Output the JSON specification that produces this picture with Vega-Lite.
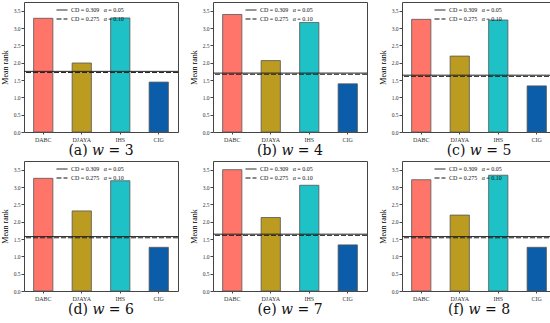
{
  "$schema": "https://vega.github.io/schema/vega-lite/v6.json",
  "background": "white",
  "padding": {"left": 0, "top": 1, "right": 5, "bottom": 0},
  "spacing": {"row": 1, "column": 10},
  "datasets": {
    "bars": [
      {"panel": "a", "alg": "DABC", "rank": 3.28}, {"panel": "a", "alg": "DJAYA", "rank": 1.99}, {"panel": "a", "alg": "IHS", "rank": 3.29}, {"panel": "a", "alg": "CIG", "rank": 1.44},
      {"panel": "b", "alg": "DABC", "rank": 3.39}, {"panel": "b", "alg": "DJAYA", "rank": 2.06}, {"panel": "b", "alg": "IHS", "rank": 3.16}, {"panel": "b", "alg": "CIG", "rank": 1.39},
      {"panel": "c", "alg": "DABC", "rank": 3.25}, {"panel": "c", "alg": "DJAYA", "rank": 2.19}, {"panel": "c", "alg": "IHS", "rank": 3.23}, {"panel": "c", "alg": "CIG", "rank": 1.33},
      {"panel": "d", "alg": "DABC", "rank": 3.25}, {"panel": "d", "alg": "DJAYA", "rank": 2.31}, {"panel": "d", "alg": "IHS", "rank": 3.18}, {"panel": "d", "alg": "CIG", "rank": 1.26},
      {"panel": "e", "alg": "DABC", "rank": 3.50}, {"panel": "e", "alg": "DJAYA", "rank": 2.12}, {"panel": "e", "alg": "IHS", "rank": 3.05}, {"panel": "e", "alg": "CIG", "rank": 1.33},
      {"panel": "f", "alg": "DABC", "rank": 3.21}, {"panel": "f", "alg": "DJAYA", "rank": 2.19}, {"panel": "f", "alg": "IHS", "rank": 3.34}, {"panel": "f", "alg": "CIG", "rank": 1.26}
    ],
    "lines": [
      {"panel": "a", "label": "CD = 0.309\u00a0\u00a0\u00a0α = 0.05", "value": 1.749}, {"panel": "a", "label": "CD = 0.275\u00a0\u00a0\u00a0α = 0.10", "value": 1.715},
      {"panel": "b", "label": "CD = 0.309\u00a0\u00a0\u00a0α = 0.05", "value": 1.699}, {"panel": "b", "label": "CD = 0.275\u00a0\u00a0\u00a0α = 0.10", "value": 1.665},
      {"panel": "c", "label": "CD = 0.309\u00a0\u00a0\u00a0α = 0.05", "value": 1.639}, {"panel": "c", "label": "CD = 0.275\u00a0\u00a0\u00a0α = 0.10", "value": 1.605},
      {"panel": "d", "label": "CD = 0.309\u00a0\u00a0\u00a0α = 0.05", "value": 1.569}, {"panel": "d", "label": "CD = 0.275\u00a0\u00a0\u00a0α = 0.10", "value": 1.535},
      {"panel": "e", "label": "CD = 0.309\u00a0\u00a0\u00a0α = 0.05", "value": 1.639}, {"panel": "e", "label": "CD = 0.275\u00a0\u00a0\u00a0α = 0.10", "value": 1.605},
      {"panel": "f", "label": "CD = 0.309\u00a0\u00a0\u00a0α = 0.05", "value": 1.569}, {"panel": "f", "label": "CD = 0.275\u00a0\u00a0\u00a0α = 0.10", "value": 1.535}
    ]
  },
  "config": {
    "font": "Liberation Serif",
    "view": {"stroke": "#444", "strokeWidth": 1},
    "axis": {"labelFont": "Liberation Serif", "titleFont": "Liberation Serif", "domain": false, "tickColor": "#444", "labelColor": "#333", "grid": false, "labelOverlap": false},
    "title": {"font": "DejaVu Serif", "fontSize": 14, "fontWeight": "normal", "color": "#111", "orient": "bottom", "offset": 2},
    "legend": {"orient": "none", "legendX": 32, "legendY": 2, "labelFont": "Liberation Serif", "labelFontSize": 6, "labelColor": "#111", "symbolType": "stroke", "symbolSize": 120, "symbolStrokeWidth": 1, "symbolStrokeColor": "#111", "rowPadding": 0, "labelOffset": 3, "title": null, "padding": 0}
  },
  "columns": 3,
  "resolve": {"legend": {"strokeDash": "independent"}},
  "concat": [
    {"width": 154, "height": 130, "title": "(a)  𝑤 = 3", "layer": [
      {"data": {"name": "bars"}, "transform": [{"filter": "datum.panel == 'a'"}], "mark": {"type": "bar", "stroke": "#555", "strokeWidth": 0.8}, "encoding": {
        "x": {"field": "alg", "type": "nominal", "sort": ["DABC", "DJAYA", "IHS", "CIG"], "scale": {"paddingInner": 0.5, "paddingOuter": 0.25}, "axis": {"title": null, "labelAngle": 0, "labelFontSize": 6, "tickSize": 2, "labelPadding": 2}},
        "y": {"field": "rank", "type": "quantitative", "scale": {"domain": [0, 3.75], "nice": false}, "axis": {"title": "Mean rank", "titleFontSize": 8, "titleFontWeight": "normal", "titlePadding": 4, "labelFontSize": 5.5, "labelOverlap": false, "values": [0, 0.5, 1, 1.5, 2, 2.5, 3, 3.5], "format": ".1f", "tickSize": 3, "labelPadding": 1}},
        "color": {"field": "alg", "type": "nominal", "scale": {"domain": ["DABC", "DJAYA", "IHS", "CIG"], "range": ["#FF756A", "#BC9B21", "#1DC1C6", "#0B5DA9"]}, "legend": null}}},
      {"data": {"name": "lines"}, "transform": [{"filter": "datum.panel == 'a'"}], "mark": {"type": "rule", "color": "#222", "strokeWidth": 1}, "encoding": {
        "y": {"field": "value", "type": "quantitative", "axis": {"title": "Mean rank", "titleFontSize": 8, "titleFontWeight": "normal", "titlePadding": 4, "labelFontSize": 5.5, "labelOverlap": false, "values": [0, 0.5, 1, 1.5, 2, 2.5, 3, 3.5], "format": ".1f", "tickSize": 3, "labelPadding": 1}},
        "strokeDash": {"field": "label", "type": "nominal", "scale": {"domain": ["CD = 0.309\u00a0\u00a0\u00a0α = 0.05", "CD = 0.275\u00a0\u00a0\u00a0α = 0.10"], "range": [[1, 0], [5, 2]]}}}}
    ]},
    {"width": 154, "height": 130, "title": "(b)  𝑤 = 4", "layer": [
      {"data": {"name": "bars"}, "transform": [{"filter": "datum.panel == 'b'"}], "mark": {"type": "bar", "stroke": "#555", "strokeWidth": 0.8}, "encoding": {
        "x": {"field": "alg", "type": "nominal", "sort": ["DABC", "DJAYA", "IHS", "CIG"], "scale": {"paddingInner": 0.5, "paddingOuter": 0.25}, "axis": {"title": null, "labelAngle": 0, "labelFontSize": 6, "tickSize": 2, "labelPadding": 2}},
        "y": {"field": "rank", "type": "quantitative", "scale": {"domain": [0, 3.75], "nice": false}, "axis": {"title": "Mean rank", "titleFontSize": 8, "titleFontWeight": "normal", "titlePadding": 4, "labelFontSize": 5.5, "labelOverlap": false, "values": [0, 0.5, 1, 1.5, 2, 2.5, 3, 3.5], "format": ".1f", "tickSize": 3, "labelPadding": 1}},
        "color": {"field": "alg", "type": "nominal", "scale": {"domain": ["DABC", "DJAYA", "IHS", "CIG"], "range": ["#FF756A", "#BC9B21", "#1DC1C6", "#0B5DA9"]}, "legend": null}}},
      {"data": {"name": "lines"}, "transform": [{"filter": "datum.panel == 'b'"}], "mark": {"type": "rule", "color": "#222", "strokeWidth": 1}, "encoding": {
        "y": {"field": "value", "type": "quantitative", "axis": {"title": "Mean rank", "titleFontSize": 8, "titleFontWeight": "normal", "titlePadding": 4, "labelFontSize": 5.5, "labelOverlap": false, "values": [0, 0.5, 1, 1.5, 2, 2.5, 3, 3.5], "format": ".1f", "tickSize": 3, "labelPadding": 1}},
        "strokeDash": {"field": "label", "type": "nominal", "scale": {"domain": ["CD = 0.309\u00a0\u00a0\u00a0α = 0.05", "CD = 0.275\u00a0\u00a0\u00a0α = 0.10"], "range": [[1, 0], [5, 2]]}}}}
    ]},
    {"width": 154, "height": 130, "title": "(c)  𝑤 = 5", "layer": [
      {"data": {"name": "bars"}, "transform": [{"filter": "datum.panel == 'c'"}], "mark": {"type": "bar", "stroke": "#555", "strokeWidth": 0.8}, "encoding": {
        "x": {"field": "alg", "type": "nominal", "sort": ["DABC", "DJAYA", "IHS", "CIG"], "scale": {"paddingInner": 0.5, "paddingOuter": 0.25}, "axis": {"title": null, "labelAngle": 0, "labelFontSize": 6, "tickSize": 2, "labelPadding": 2}},
        "y": {"field": "rank", "type": "quantitative", "scale": {"domain": [0, 3.75], "nice": false}, "axis": {"title": "Mean rank", "titleFontSize": 8, "titleFontWeight": "normal", "titlePadding": 4, "labelFontSize": 5.5, "labelOverlap": false, "values": [0, 0.5, 1, 1.5, 2, 2.5, 3, 3.5], "format": ".1f", "tickSize": 3, "labelPadding": 1}},
        "color": {"field": "alg", "type": "nominal", "scale": {"domain": ["DABC", "DJAYA", "IHS", "CIG"], "range": ["#FF756A", "#BC9B21", "#1DC1C6", "#0B5DA9"]}, "legend": null}}},
      {"data": {"name": "lines"}, "transform": [{"filter": "datum.panel == 'c'"}], "mark": {"type": "rule", "color": "#222", "strokeWidth": 1}, "encoding": {
        "y": {"field": "value", "type": "quantitative", "axis": {"title": "Mean rank", "titleFontSize": 8, "titleFontWeight": "normal", "titlePadding": 4, "labelFontSize": 5.5, "labelOverlap": false, "values": [0, 0.5, 1, 1.5, 2, 2.5, 3, 3.5], "format": ".1f", "tickSize": 3, "labelPadding": 1}},
        "strokeDash": {"field": "label", "type": "nominal", "scale": {"domain": ["CD = 0.309\u00a0\u00a0\u00a0α = 0.05", "CD = 0.275\u00a0\u00a0\u00a0α = 0.10"], "range": [[1, 0], [5, 2]]}}}}
    ]},
    {"width": 154, "height": 130, "title": "(d)  𝑤 = 6", "layer": [
      {"data": {"name": "bars"}, "transform": [{"filter": "datum.panel == 'd'"}], "mark": {"type": "bar", "stroke": "#555", "strokeWidth": 0.8}, "encoding": {
        "x": {"field": "alg", "type": "nominal", "sort": ["DABC", "DJAYA", "IHS", "CIG"], "scale": {"paddingInner": 0.5, "paddingOuter": 0.25}, "axis": {"title": null, "labelAngle": 0, "labelFontSize": 6, "tickSize": 2, "labelPadding": 2}},
        "y": {"field": "rank", "type": "quantitative", "scale": {"domain": [0, 3.75], "nice": false}, "axis": {"title": "Mean rank", "titleFontSize": 8, "titleFontWeight": "normal", "titlePadding": 4, "labelFontSize": 5.5, "labelOverlap": false, "values": [0, 0.5, 1, 1.5, 2, 2.5, 3, 3.5], "format": ".1f", "tickSize": 3, "labelPadding": 1}},
        "color": {"field": "alg", "type": "nominal", "scale": {"domain": ["DABC", "DJAYA", "IHS", "CIG"], "range": ["#FF756A", "#BC9B21", "#1DC1C6", "#0B5DA9"]}, "legend": null}}},
      {"data": {"name": "lines"}, "transform": [{"filter": "datum.panel == 'd'"}], "mark": {"type": "rule", "color": "#222", "strokeWidth": 1}, "encoding": {
        "y": {"field": "value", "type": "quantitative", "axis": {"title": "Mean rank", "titleFontSize": 8, "titleFontWeight": "normal", "titlePadding": 4, "labelFontSize": 5.5, "labelOverlap": false, "values": [0, 0.5, 1, 1.5, 2, 2.5, 3, 3.5], "format": ".1f", "tickSize": 3, "labelPadding": 1}},
        "strokeDash": {"field": "label", "type": "nominal", "scale": {"domain": ["CD = 0.309\u00a0\u00a0\u00a0α = 0.05", "CD = 0.275\u00a0\u00a0\u00a0α = 0.10"], "range": [[1, 0], [5, 2]]}}}}
    ]},
    {"width": 154, "height": 130, "title": "(e)  𝑤 = 7", "layer": [
      {"data": {"name": "bars"}, "transform": [{"filter": "datum.panel == 'e'"}], "mark": {"type": "bar", "stroke": "#555", "strokeWidth": 0.8}, "encoding": {
        "x": {"field": "alg", "type": "nominal", "sort": ["DABC", "DJAYA", "IHS", "CIG"], "scale": {"paddingInner": 0.5, "paddingOuter": 0.25}, "axis": {"title": null, "labelAngle": 0, "labelFontSize": 6, "tickSize": 2, "labelPadding": 2}},
        "y": {"field": "rank", "type": "quantitative", "scale": {"domain": [0, 3.75], "nice": false}, "axis": {"title": "Mean rank", "titleFontSize": 8, "titleFontWeight": "normal", "titlePadding": 4, "labelFontSize": 5.5, "labelOverlap": false, "values": [0, 0.5, 1, 1.5, 2, 2.5, 3, 3.5], "format": ".1f", "tickSize": 3, "labelPadding": 1}},
        "color": {"field": "alg", "type": "nominal", "scale": {"domain": ["DABC", "DJAYA", "IHS", "CIG"], "range": ["#FF756A", "#BC9B21", "#1DC1C6", "#0B5DA9"]}, "legend": null}}},
      {"data": {"name": "lines"}, "transform": [{"filter": "datum.panel == 'e'"}], "mark": {"type": "rule", "color": "#222", "strokeWidth": 1}, "encoding": {
        "y": {"field": "value", "type": "quantitative", "axis": {"title": "Mean rank", "titleFontSize": 8, "titleFontWeight": "normal", "titlePadding": 4, "labelFontSize": 5.5, "labelOverlap": false, "values": [0, 0.5, 1, 1.5, 2, 2.5, 3, 3.5], "format": ".1f", "tickSize": 3, "labelPadding": 1}},
        "strokeDash": {"field": "label", "type": "nominal", "scale": {"domain": ["CD = 0.309\u00a0\u00a0\u00a0α = 0.05", "CD = 0.275\u00a0\u00a0\u00a0α = 0.10"], "range": [[1, 0], [5, 2]]}}}}
    ]},
    {"width": 154, "height": 130, "title": "(f)  𝑤 = 8", "layer": [
      {"data": {"name": "bars"}, "transform": [{"filter": "datum.panel == 'f'"}], "mark": {"type": "bar", "stroke": "#555", "strokeWidth": 0.8}, "encoding": {
        "x": {"field": "alg", "type": "nominal", "sort": ["DABC", "DJAYA", "IHS", "CIG"], "scale": {"paddingInner": 0.5, "paddingOuter": 0.25}, "axis": {"title": null, "labelAngle": 0, "labelFontSize": 6, "tickSize": 2, "labelPadding": 2}},
        "y": {"field": "rank", "type": "quantitative", "scale": {"domain": [0, 3.75], "nice": false}, "axis": {"title": "Mean rank", "titleFontSize": 8, "titleFontWeight": "normal", "titlePadding": 4, "labelFontSize": 5.5, "labelOverlap": false, "values": [0, 0.5, 1, 1.5, 2, 2.5, 3, 3.5], "format": ".1f", "tickSize": 3, "labelPadding": 1}},
        "color": {"field": "alg", "type": "nominal", "scale": {"domain": ["DABC", "DJAYA", "IHS", "CIG"], "range": ["#FF756A", "#BC9B21", "#1DC1C6", "#0B5DA9"]}, "legend": null}}},
      {"data": {"name": "lines"}, "transform": [{"filter": "datum.panel == 'f'"}], "mark": {"type": "rule", "color": "#222", "strokeWidth": 1}, "encoding": {
        "y": {"field": "value", "type": "quantitative", "axis": {"title": "Mean rank", "titleFontSize": 8, "titleFontWeight": "normal", "titlePadding": 4, "labelFontSize": 5.5, "labelOverlap": false, "values": [0, 0.5, 1, 1.5, 2, 2.5, 3, 3.5], "format": ".1f", "tickSize": 3, "labelPadding": 1}},
        "strokeDash": {"field": "label", "type": "nominal", "scale": {"domain": ["CD = 0.309\u00a0\u00a0\u00a0α = 0.05", "CD = 0.275\u00a0\u00a0\u00a0α = 0.10"], "range": [[1, 0], [5, 2]]}}}}
    ]}
  ]
}
